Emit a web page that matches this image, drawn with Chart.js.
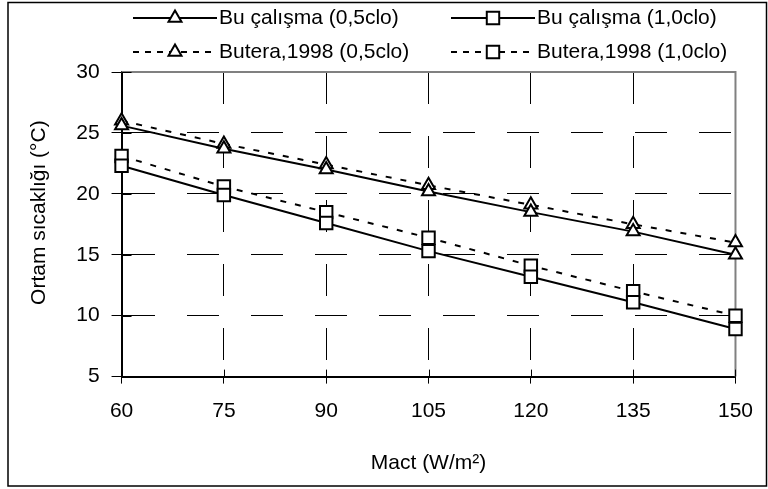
<!DOCTYPE html>
<html>
<head>
<meta charset="utf-8">
<script src="https://cdn.jsdelivr.net/npm/chart.js@4.4.0/dist/chart.umd.min.js"></script>
<style>
  html, body { margin: 0; padding: 0; background: #fff; }
</style>
</head>
<body>
<canvas id="myChart" width="768" height="489"></canvas>
<script>
const mact = ['60', '75', '90', '105', '120', '135', '150'];
const buStudy05 = [25.6, 23.7, 22.0, 20.2, 18.5, 16.9, 15.0];
const buStudy10 = [22.3, 19.9, 17.6, 15.3, 13.2, 11.1, 8.9];
const butera05 = [26.0, 24.1, 22.4, 20.7, 19.1, 17.5, 16.0];
const butera10 = [23.1, 20.6, 18.5, 16.4, 14.1, 12.0, 10.0];
const yTicks = [5, 10, 15, 20, 25, 30];
const seriesNames = ['Bu çalışma (0,5clo)', 'Bu çalışma (1,0clo)', 'Butera,1998 (0,5clo)', 'Butera,1998 (1,0clo)'];

const FONT = '"Liberation Sans", Arial, sans-serif';
Chart.defaults.font.family = FONT;
Chart.defaults.font.size = 21;
Chart.defaults.color = '#000';

function series(label, data, style, dashed) {
    return {
        label: label,
        data: data,
        borderColor: '#000',
        borderWidth: 2,
        borderDash: dashed ? [6, 9] : [],
        pointStyle: style,
        pointRadius: style === 'rect' ? 8.8 : 7.5,
        pointBorderWidth: 2,
        pointBorderColor: '#000',
        pointBackgroundColor: '#fff',
        tension: 0,
        fill: false
    };
}

// gray frame on top/right, ticks crossing the axes
const framePlugin = {
    id: 'frame',
    beforeDatasetsDraw(chart) {
        const ctx = chart.ctx;
        const {left, top, right, bottom} = chart.chartArea;
        ctx.save();
        ctx.strokeStyle = '#808080';
        ctx.lineWidth = 2;
        ctx.beginPath();
        ctx.moveTo(left, top);
        ctx.lineTo(right, top);
        ctx.lineTo(right, bottom);
        ctx.stroke();

        ctx.strokeStyle = '#000';
        ctx.lineWidth = 1;
        const xs = chart.scales.x, ys = chart.scales.y;
        xs.ticks.forEach((t, i) => {
            const px = Math.round(xs.getPixelForTick(i)) + 0.5;
            ctx.beginPath();
            ctx.moveTo(px, bottom - 7);
            ctx.lineTo(px, bottom);
            ctx.stroke();
        });
        ys.ticks.forEach((t, i) => {
            const py = Math.round(ys.getPixelForTick(i)) + 0.5;
            ctx.beginPath();
            ctx.moveTo(left, py);
            ctx.lineTo(left + 10, py);
            ctx.stroke();
        });
        ctx.restore();
    },
    afterDraw(chart) {
        const ctx = chart.ctx;
        ctx.save();
        // outer box
        ctx.strokeStyle = '#000';
        ctx.lineWidth = 1.5;
        ctx.strokeRect(8, 2.5, 758.5, 483.5);

        // legend, two columns by two rows
        const cols = [133, 451];
        const rows = [18, 52];
        chart.data.datasets.forEach((ds, i) => {
            const x0 = cols[i % 2];
            const y = rows[Math.floor(i / 2)];
            ctx.strokeStyle = '#000';
            ctx.lineWidth = 2;
            ctx.setLineDash(ds.borderDash.length ? [6, 6] : []);
            ctx.beginPath();
            ctx.moveTo(x0, y);
            ctx.lineTo(x0 + 84, y);
            ctx.stroke();
            ctx.setLineDash([]);
            ctx.fillStyle = '#fff';
            Chart.helpers.drawPoint(ctx, {
                pointStyle: ds.pointStyle,
                radius: ds.pointRadius,
                borderWidth: 2,
                rotation: 0
            }, x0 + 42, y);
            ctx.fillStyle = '#000';
            ctx.font = '21px ' + FONT;
            ctx.textBaseline = 'middle';
            ctx.textAlign = 'left';
            ctx.fillText(ds.label, x0 + 86, y);
        });
        ctx.restore();
    }
};

const ctx = document.getElementById('myChart').getContext('2d');
new Chart(ctx, {
    type: 'line',
    data: {
        labels: mact,
        datasets: [
            series(seriesNames[0], buStudy05, 'triangle', false),
            series(seriesNames[1], buStudy10, 'rect', false),
            series(seriesNames[2], butera05, 'triangle', true),
            series(seriesNames[3], butera10, 'rect', true)
        ]
    },
    options: {
        responsive: false,
        animation: false,
        layout: {
            padding: {top: 72, left: 23, right: 18, bottom: 10}
        },
        plugins: {
            legend: {display: false},
            tooltip: {enabled: false}
        },
        scales: {
            x: {
                type: 'category',
                offset: false,
                grid: {
                    color: c => (c.index === 0 || c.index === mact.length - 1) ? 'rgba(0,0,0,0)' : '#000',
                    lineWidth: 1,
                    tickLength: 7,
                    tickColor: '#000',
                    tickWidth: 1
                },
                border: {display: true, color: '#000', width: 2, dash: [32, 32]},
                ticks: {padding: 15, maxRotation: 0, autoSkip: false, color: '#000'},
                title: {display: true, text: 'Mact (W/m²)', padding: {top: 12, bottom: 3}}
            },
            y: {
                min: yTicks[0],
                max: yTicks[yTicks.length - 1],
                afterBuildTicks: axis => { axis.ticks = yTicks.map(v => ({value: v})); },
                grid: {
                    color: c => (c.tick && (c.tick.value === yTicks[0] || c.tick.value === yTicks[yTicks.length - 1])) ? 'rgba(0,0,0,0)' : '#000',
                    lineWidth: 1,
                    tickLength: 10,
                    tickColor: '#000',
                    tickWidth: 1
                },
                border: {display: true, color: '#000', width: 2, dash: [32, 32]},
                ticks: {padding: 12, color: '#000'},
                title: {display: true, text: '\u00A0\u00A0\u00A0\u00A0Ortam sıcaklığı (°C)', padding: {top: 4, bottom: 12}}
            }
        }
    },
    plugins: [framePlugin]
});
</script>
</body>
</html>
